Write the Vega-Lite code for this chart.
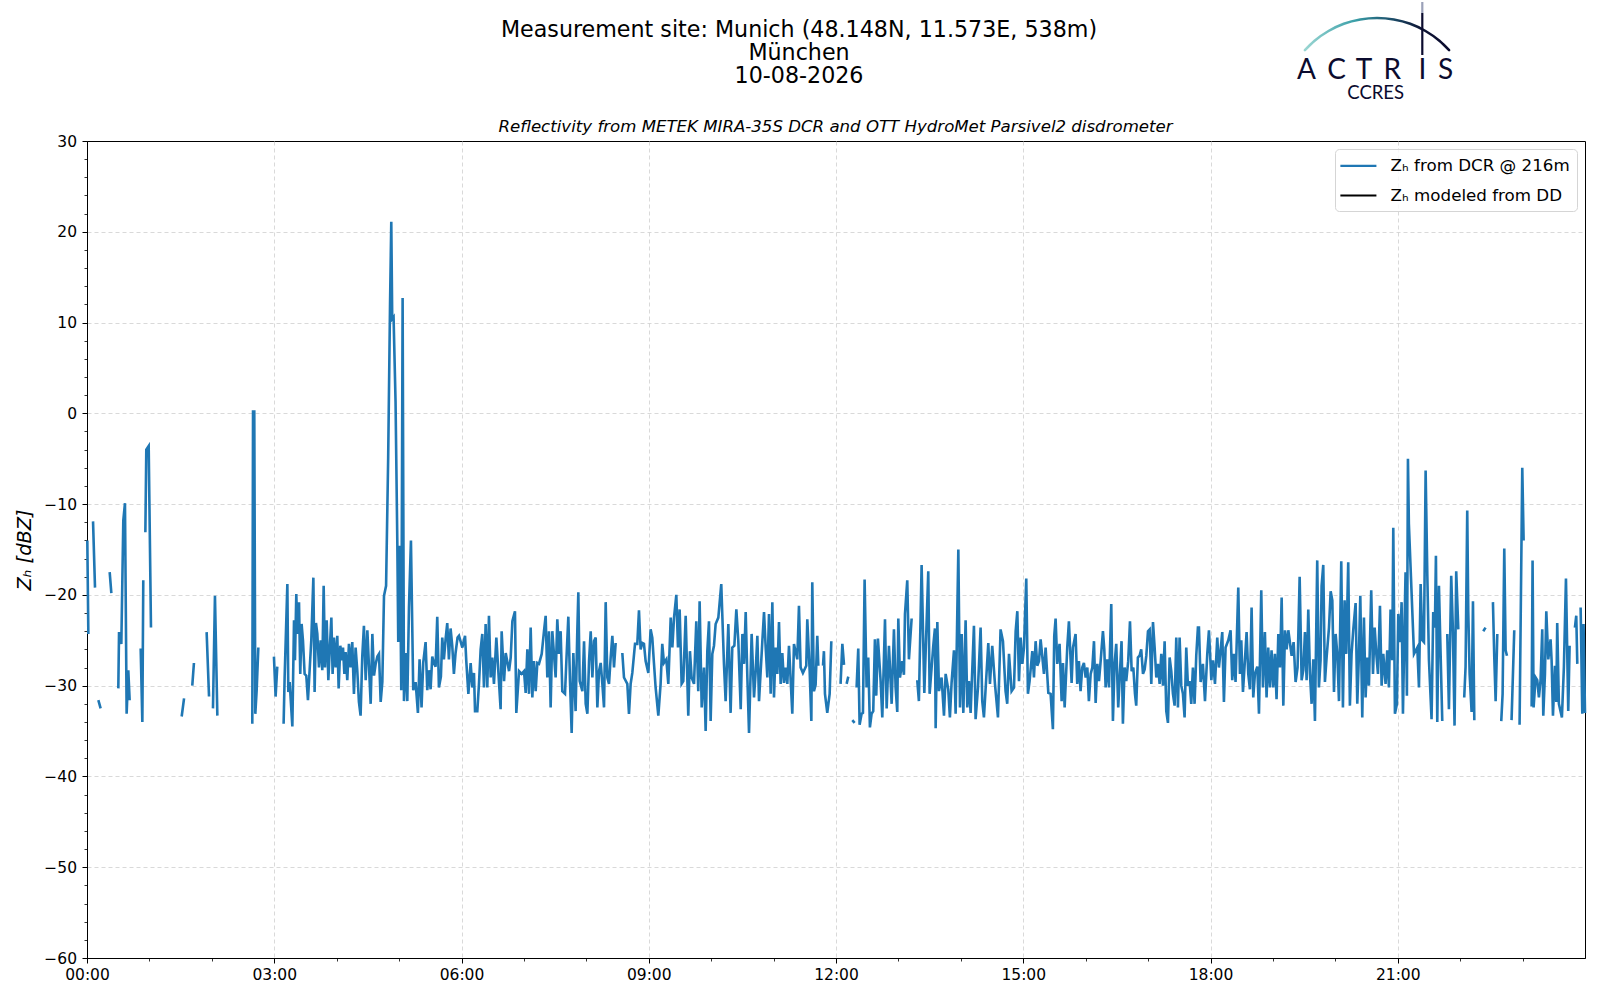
{
  "$schema": "https://vega.github.io/schema/vega-lite/v6.json",
  "background": "white",
  "padding": {"left": 14, "top": 0, "right": 5, "bottom": 5},
  "spacing": 5,
  "bounds": "flush",
  "resolve": {"legend": {"color": "independent"}},
  "config": {
    "font": "DejaVu Sans",
    "view": {"stroke": "black", "strokeWidth": 1},
    "axis": {
      "labelFont": "DejaVu Sans",
      "labelFontSize": 15.5,
      "labelColor": "black",
      "tickColor": "black",
      "domainColor": "black",
      "titleColor": "black",
      "titleFont": "DejaVu Sans",
      "titleFontWeight": "normal",
      "gridColor": "#cfcfcf",
      "gridDash": [4, 3],
      "gridWidth": 0.8
    }
  },
  "datasets": {
    "dcr": [
      {"m":0.3,"z":-14.0},{"m":1.3,"z":-24.3},{"m":3,"z":null},
      {"m":5.8,"z":-11.9},{"m":7.7,"z":-19.2},{"m":9,"z":null},
      {"m":10.9,"z":-31.6},{"m":13.1,"z":-32.5},{"m":17,"z":null},
      {"m":21.8,"z":-17.5},{"m":23.4,"z":-19.8},{"m":27,"z":null},
      {"m":30.1,"z":-30.3},{"m":30.8,"z":-24.1},{"m":33.0,"z":-25.4},{"m":34.9,"z":-11.8},{"m":36.5,"z":-9.9},{"m":38.1,"z":-33.1},{"m":39.7,"z":-28.3},{"m":41.0,"z":-31.6},{"m":45,"z":null},
      {"m":51.6,"z":-25.9},{"m":53.2,"z":-34.0},{"m":54.1,"z":-18.4},{"m":55,"z":null},
      {"m":56.1,"z":-13.1},{"m":57.0,"z":-4.0},{"m":59.3,"z":-3.6},{"m":61.5,"z":-23.6},{"m":65,"z":null},
      {"m":91.0,"z":-33.4},{"m":93.3,"z":-31.4},{"m":96,"z":null},
      {"m":101.2,"z":-30.0},{"m":102.8,"z":-27.5},{"m":106,"z":null},
      {"m":115.0,"z":-24.1},{"m":117.3,"z":-31.2},{"m":119,"z":null},
      {"m":121.1,"z":-32.5},{"m":123.0,"z":-20.1},{"m":125.3,"z":-33.3},{"m":130,"z":null},
      {"m":158.9,"z":-34.2},{"m":159.6,"z":0.2},{"m":160.8,"z":0.2},{"m":161.8,"z":-33.1},{"m":163.1,"z":-30.5},{"m":164.7,"z":-25.8},{"m":170,"z":null},
      {"m":179.7,"z":-26.8},{"m":181.3,"z":-31.2},{"m":182.9,"z":-27.9},{"m":185,"z":null},
      {"m":189.0,"z":-34.2},{"m":190.0,"z":-29.0},{"m":192.6,"z":-18.8},{"m":193.5,"z":-30.7},{"m":194.8,"z":-29.6},{"m":197.4,"z":-34.5},{"m":199.0,"z":-22.8},{"m":199.9,"z":-27.2},
      {"m":201.2,"z":-19.9},{"m":202.2,"z":-24.3},{"m":203.8,"z":-20.8},{"m":205.0,"z":-28.7},{"m":206.3,"z":-23.2},{"m":207.6,"z":-25.0},{"m":209.2,"z":-28.7},{"m":210.8,"z":-28.9},
      {"m":212.4,"z":-31.6},{"m":214.0,"z":-28.3},{"m":215.6,"z":-25.0},{"m":217.6,"z":-18.1},{"m":218.8,"z":-30.7},{"m":220.1,"z":-23.1},{"m":221.4,"z":-24.3},{"m":223.0,"z":-28.0},
      {"m":224.6,"z":-25.0},{"m":226.2,"z":-28.3},{"m":227.5,"z":-19.0},{"m":228.8,"z":-28.0},{"m":230.4,"z":-22.8},{"m":232.0,"z":-29.4},{"m":233.3,"z":-26.1},{"m":234.9,"z":-22.5},
      {"m":236.1,"z":-28.7},{"m":237.4,"z":-24.7},{"m":239.0,"z":-28.0},{"m":240.6,"z":-24.5},{"m":241.9,"z":-30.3},{"m":243.5,"z":-25.6},{"m":245.1,"z":-27.2},{"m":246.1,"z":-25.8},
      {"m":247.4,"z":-28.7},{"m":248.6,"z":-26.3},{"m":250.2,"z":-29.4},{"m":251.8,"z":-25.4},{"m":253.4,"z":-28.0},{"m":255.0,"z":-25.2},{"m":256.6,"z":-30.9},{"m":258.2,"z":-25.8},
      {"m":259.8,"z":-28.3},{"m":261.4,"z":-31.8},{"m":263.0,"z":-33.3},{"m":264.6,"z":-26.8},{"m":266.2,"z":-23.4},{"m":267.9,"z":-29.4},{"m":269.5,"z":-23.9},{"m":271.1,"z":-28.0},
      {"m":272.7,"z":-32.0},{"m":274.3,"z":-24.3},{"m":275.9,"z":-28.9},{"m":277.5,"z":-27.6},{"m":279.1,"z":-26.8},{"m":280.7,"z":-26.5},{"m":282.3,"z":-31.8},{"m":283.9,"z":-29.6},
      {"m":285.5,"z":-20.1},{"m":287.5,"z":-19.0},{"m":289.5,"z":-5.0},{"m":291.3,"z":12.0},{"m":292.5,"z":21.1},{"m":293.4,"z":10.4},{"m":294.7,"z":10.6},{"m":296.6,"z":1.3},
      {"m":298.3,"z":-14.2},{"m":299.2,"z":-25.2},{"m":300.8,"z":-14.6},{"m":302.1,"z":-30.5},{"m":303.4,"z":12.7},{"m":304.7,"z":-31.7},{"m":306.3,"z":-26.4},{"m":307.9,"z":-31.7},
      {"m":309.5,"z":-21.4},{"m":311.4,"z":-14.0},{"m":313.6,"z":-30.5},{"m":315.9,"z":-29.6},{"m":318.1,"z":-33.0},{"m":319.7,"z":-27.1},{"m":321.6,"z":-32.4},{"m":323.2,"z":-27.5},
      {"m":325.5,"z":-25.2},{"m":327.1,"z":-30.5},{"m":328.7,"z":-28.3},{"m":330.3,"z":-30.4},{"m":331.9,"z":-26.8},{"m":333.5,"z":-27.5},{"m":335.1,"z":-27.9},{"m":336.7,"z":-22.4},
      {"m":338.3,"z":-30.2},{"m":340.2,"z":-29.0},{"m":341.5,"z":-24.7},{"m":343.1,"z":-27.1},{"m":344.7,"z":-24.9},{"m":346.3,"z":-23.1},{"m":347.9,"z":-27.1},{"m":349.5,"z":-23.7},
      {"m":351.1,"z":-25.6},{"m":352.7,"z":-28.7},{"m":354.3,"z":-26.4},{"m":356.2,"z":-24.7},
      {"m":357.6,"z":-24.5},{"m":360.8,"z":-25.8},{"m":363.4,"z":-24.5},{"m":364.6,"z":-27.3},{"m":366.6,"z":-30.9},{"m":368.8,"z":-27.5},{"m":370.4,"z":-30.2},{"m":372.0,"z":-28.6},
      {"m":373.0,"z":-32.8},{"m":375.2,"z":-32.8},{"m":376.8,"z":-29.8},{"m":378.4,"z":-26.0},{"m":380.0,"z":-24.3},{"m":381.6,"z":-30.2},{"m":383.2,"z":-23.2},{"m":384.8,"z":-30.2},
      {"m":386.4,"z":-22.3},{"m":388.0,"z":-29.1},{"m":389.6,"z":-26.9},{"m":391.2,"z":-29.8},{"m":393.5,"z":-24.7},{"m":395.4,"z":-28.4},{"m":397.6,"z":-32.6},{"m":398.6,"z":-24.0},
      {"m":400.9,"z":-29.5},{"m":402.5,"z":-26.4},{"m":405.7,"z":-28.4},{"m":407.3,"z":-26.9},{"m":408.9,"z":-22.9},{"m":411.4,"z":-21.8},{"m":412.7,"z":-33.0},{"m":415.3,"z":-28.4},
      {"m":417.8,"z":-28.7},{"m":420.1,"z":-28.4},{"m":421.7,"z":-30.8},{"m":423.3,"z":-26.0},{"m":424.9,"z":-30.9},{"m":426.5,"z":-23.6},{"m":428.1,"z":-31.3},{"m":429.7,"z":-27.3},
      {"m":431.3,"z":-30.6},{"m":432.9,"z":-27.5},{"m":434.5,"z":-27.6},{"m":437.1,"z":-26.5},{"m":439.3,"z":-24.0},{"m":440.9,"z":-22.3},{"m":442.5,"z":-29.1},{"m":444.1,"z":-24.0},
      {"m":445.7,"z":-32.4},{"m":447.3,"z":-24.0},{"m":450.5,"z":-29.1},{"m":452.1,"z":-22.7},{"m":453.7,"z":-26.5},{"m":455.3,"z":-24.0},{"m":456.9,"z":-30.6},{"m":459.5,"z":-30.9},
      {"m":460.8,"z":-27.3},{"m":462.7,"z":-22.4},{"m":464.3,"z":-29.5},{"m":465.9,"z":-35.2},{"m":467.5,"z":-26.4},{"m":469.7,"z":-32.8},{"m":471.3,"z":-24.1},{"m":472.3,"z":-19.7},
      {"m":473.6,"z":-29.5},{"m":476.2,"z":-30.6},{"m":477.8,"z":-25.1},{"m":479.4,"z":-32.0},{"m":481.0,"z":-33.1},{"m":482.6,"z":-27.3},{"m":484.2,"z":-24.0},{"m":485.8,"z":-29.1},
      {"m":487.4,"z":-25.1},{"m":489.0,"z":-24.7},{"m":490.6,"z":-32.4},{"m":492.2,"z":-28.4},{"m":493.8,"z":-27.5},{"m":495.4,"z":-29.8},{"m":497.0,"z":-32.4},{"m":498.6,"z":-20.8},
      {"m":500.2,"z":-29.1},{"m":501.8,"z":-29.8},{"m":503.4,"z":-26.9},{"m":505.0,"z":-24.5},{"m":506.6,"z":-28.0},{"m":508.2,"z":-25.3},{"m":512,"z":null},
      {"m":514.6,"z":-26.4},{"m":516.2,"z":-29.1},{"m":519.4,"z":-29.8},{"m":521.0,"z":-33.1},{"m":522.6,"z":-29.8},{"m":524.2,"z":-28.6},{"m":526.8,"z":-25.4},{"m":529.0,"z":-25.4},
      {"m":530.6,"z":-21.7},{"m":532.2,"z":-26.0},{"m":533.8,"z":-25.3},{"m":535.4,"z":-25.4},{"m":537.0,"z":-27.3},{"m":539.6,"z":-28.6},{"m":541.8,"z":-23.8},{"m":543.4,"z":-24.7},
      {"m":545.0,"z":-27.5},{"m":546.6,"z":-30.2},{"m":549.2,"z":-33.3},{"m":551.4,"z":-29.8},{"m":553.0,"z":-25.4},{"m":554.6,"z":-27.5},{"m":556.9,"z":-27.1},{"m":558.8,"z":-29.8},
      {"m":561.1,"z":-22.5},{"m":562.7,"z":-25.8},{"m":564.3,"z":-22.5},{"m":566.5,"z":-20.0},{"m":568.1,"z":-25.8},{"m":569.7,"z":-21.6},{"m":571.6,"z":-29.8},{"m":573.2,"z":-29.5},
      {"m":575.5,"z":-22.3},{"m":578.0,"z":-33.3},{"m":579.6,"z":-26.2},{"m":581.2,"z":-29.1},{"m":583.5,"z":-29.8},{"m":585.7,"z":-22.9},{"m":587.6,"z":-30.6},{"m":588.9,"z":-20.7},
      {"m":590.9,"z":-32.4},{"m":593.1,"z":-28.0},{"m":594.7,"z":-35.0},{"m":596.3,"z":-26.2},{"m":597.9,"z":-22.9},{"m":599.5,"z":-33.9},{"m":601.1,"z":-26.5},{"m":602.7,"z":-25.6},
      {"m":604.3,"z":-23.2},{"m":606.9,"z":-22.5},{"m":609.7,"z":-18.8},{"m":612.3,"z":-27.6},{"m":613.9,"z":-31.7},{"m":616.5,"z":-23.2},{"m":618.7,"z":-33.0},{"m":620.3,"z":-25.8},
      {"m":622.3,"z":-25.6},{"m":624.2,"z":-21.6},{"m":626.1,"z":-25.1},{"m":628.4,"z":-32.6},{"m":630.0,"z":-24.3},{"m":631.6,"z":-27.6},{"m":633.2,"z":-21.9},{"m":634.8,"z":-29.1},
      {"m":636.4,"z":-35.2},{"m":638.9,"z":-24.3},{"m":641.2,"z":-31.3},{"m":642.8,"z":-28.4},{"m":644.4,"z":-24.5},{"m":646.0,"z":-31.7},{"m":649.2,"z":-25.1},{"m":650.8,"z":-21.9},
      {"m":652.4,"z":-25.8},{"m":654.0,"z":-29.1},{"m":655.6,"z":-22.1},{"m":657.2,"z":-30.9},{"m":658.8,"z":-20.8},{"m":660.4,"z":-31.3},{"m":662.0,"z":-25.8},{"m":663.6,"z":-28.7},
      {"m":665.2,"z":-23.0},{"m":666.8,"z":-29.8},{"m":668.4,"z":-26.4},{"m":670.0,"z":-29.7},{"m":671.6,"z":-28.0},{"m":673.2,"z":-29.8},{"m":674.8,"z":-25.6},{"m":678.0,"z":-33.1},
      {"m":679.6,"z":-25.4},{"m":682.8,"z":-27.1},{"m":684.4,"z":-21.2},{"m":686.0,"z":-28.0},{"m":688.2,"z":-28.6},{"m":691.4,"z":-27.8},{"m":692.4,"z":-22.7},{"m":694.7,"z":-28.4},
      {"m":696.3,"z":-33.9},{"m":697.2,"z":-18.6},{"m":698.8,"z":-30.6},{"m":700.4,"z":-29.9},{"m":702.0,"z":-24.5},{"m":703.0,"z":-27.8},{"m":705,"z":null},
      {"m":707.5,"z":-27.8},{"m":708.4,"z":-26.2},{"m":709.4,"z":-30.9},{"m":711.6,"z":-33.0},{"m":713.9,"z":-30.9},{"m":715.5,"z":-25.1},{"m":719,"z":null},
      {"m":724.4,"z":-29.8},{"m":726.1,"z":-25.4},{"m":727.7,"z":-27.7},{"m":729,"z":null},
      {"m":730.2,"z":-29.8},{"m":731.8,"z":-29.0},{"m":733.5,"z":null},
      {"m":735.7,"z":-33.8},{"m":737.9,"z":-34.1},{"m":738.8,"z":null},
      {"m":739.8,"z":-30.2},{"m":741.4,"z":-25.9},{"m":742.7,"z":-34.3},{"m":744.6,"z":-33.1},{"m":745.9,"z":-33.0},{"m":747.5,"z":-18.3},{"m":749.4,"z":-30.2},{"m":751.0,"z":-26.9},
      {"m":752.6,"z":-34.6},{"m":754.2,"z":-33.1},{"m":755.8,"z":-32.8},{"m":757.4,"z":-24.9},{"m":758.7,"z":-31.1},{"m":760.3,"z":-24.8},{"m":762.9,"z":-29.5},{"m":764.5,"z":-33.5},
      {"m":767.1,"z":-22.7},{"m":768.7,"z":-32.5},{"m":770.9,"z":-25.6},{"m":773.5,"z":-32.0},{"m":775.7,"z":-23.8},{"m":777.3,"z":-30.2},{"m":778.9,"z":-32.9},{"m":779.9,"z":-22.6},
      {"m":781.5,"z":-29.1},{"m":783.7,"z":-27.3},{"m":785.3,"z":-28.8},{"m":786.3,"z":-22.1},{"m":788.5,"z":-18.4},{"m":790.1,"z":-27.1},{"m":792.7,"z":-22.6},{"m":795,"z":null},
      {"m":798.1,"z":-29.4},{"m":799.7,"z":-31.7},{"m":802.3,"z":-16.7},{"m":804.9,"z":-30.8},{"m":808.7,"z":-17.4},{"m":810.0,"z":-30.9},{"m":813.5,"z":-25.6},{"m":815.1,"z":-23.7},
      {"m":815.8,"z":-34.7},{"m":817.4,"z":-23.0},{"m":819.0,"z":-30.6},{"m":821.5,"z":-29.1},{"m":823.8,"z":-33.3},{"m":825.4,"z":-28.7},{"m":827.9,"z":-30.4},{"m":829.5,"z":-33.5},
      {"m":831.1,"z":-29.7},{"m":833.4,"z":-26.1},{"m":835.0,"z":-33.1},{"m":837.6,"z":-15.0},{"m":839.2,"z":-32.4},{"m":840.8,"z":-24.3},{"m":842.4,"z":-33.0},{"m":844.6,"z":-22.8},
      {"m":846.2,"z":-32.4},{"m":847.8,"z":-29.5},{"m":849.4,"z":-33.0},{"m":852.6,"z":-23.4},{"m":854.2,"z":-33.7},{"m":856.5,"z":-30.2},{"m":859.0,"z":-23.6},{"m":860.6,"z":-31.7},
      {"m":862.2,"z":-33.5},{"m":863.8,"z":-30.4},{"m":866.4,"z":-25.3},{"m":868.0,"z":-29.8},{"m":870.2,"z":-25.6},{"m":872.8,"z":-29.8},{"m":875.7,"z":-33.5},{"m":878.2,"z":-23.8},
      {"m":880.5,"z":-25.1},{"m":883.0,"z":-30.6},{"m":884.6,"z":-32.0},{"m":886.3,"z":-26.5},{"m":888.8,"z":-30.6},{"m":891.1,"z":-30.2},{"m":892.7,"z":-24.0},{"m":894.3,"z":-21.8},
      {"m":895.9,"z":-29.5},{"m":897.5,"z":-24.7},{"m":899.1,"z":-27.6},{"m":900.7,"z":-25.8},{"m":902.9,"z":-18.2},{"m":904.5,"z":-30.9},{"m":906.1,"z":-29.5},{"m":908.7,"z":-26.2},
      {"m":910.3,"z":-29.1},{"m":911.9,"z":-25.1},{"m":913.5,"z":-27.8},{"m":915.1,"z":-27.3},{"m":916.7,"z":-24.9},{"m":919.9,"z":-28.7},{"m":921.5,"z":-25.8},{"m":924.1,"z":-30.8},
      {"m":926.3,"z":-30.9},{"m":928.5,"z":-34.8},{"m":929.8,"z":-24.5},{"m":931.1,"z":-22.6},{"m":932.7,"z":-27.6},{"m":934.9,"z":-25.4},{"m":936.9,"z":-31.7},{"m":938.2,"z":-27.5},
      {"m":939.8,"z":-32.4},{"m":942.3,"z":-25.8},{"m":943.9,"z":-22.9},{"m":946.5,"z":-29.7},{"m":947.8,"z":-25.8},{"m":950.3,"z":-24.3},{"m":951.9,"z":-29.8},{"m":953.5,"z":-27.3},
      {"m":955.1,"z":-30.6},{"m":956.7,"z":-28.0},{"m":958.3,"z":-27.5},{"m":960.0,"z":-29.1},{"m":961.6,"z":-28.0},{"m":963.1,"z":-31.7},{"m":964.8,"z":-28.7},{"m":966.4,"z":-28.0},
      {"m":968.0,"z":-25.1},{"m":969.6,"z":-31.9},{"m":971.2,"z":-27.6},{"m":972.8,"z":-29.5},{"m":974.4,"z":-27.3},{"m":976.6,"z":-24.0},{"m":977.9,"z":-26.0},{"m":979.2,"z":-30.2},
      {"m":980.8,"z":-27.1},{"m":982.4,"z":-30.2},{"m":984.6,"z":-21.0},{"m":986.2,"z":-33.9},{"m":987.8,"z":-27.6},{"m":989.4,"z":-25.4},{"m":991.3,"z":-32.4},{"m":992.9,"z":-28.7},
      {"m":994.5,"z":-25.1},{"m":995.8,"z":-34.2},{"m":997.4,"z":-28.0},{"m":999.0,"z":-29.5},{"m":1000.9,"z":-27.3},{"m":1002.6,"z":-22.9},{"m":1004.2,"z":-28.4},{"m":1005.8,"z":-28.0},
      {"m":1007.4,"z":-30.9},{"m":1008.6,"z":-32.2},{"m":1010.2,"z":-26.9},{"m":1011.8,"z":-26.7},{"m":1013.4,"z":-26.0},{"m":1015.1,"z":-28.7},{"m":1016.7,"z":-28.2},{"m":1018.3,"z":-26.7},
      {"m":1019.9,"z":-24.0},{"m":1021.5,"z":-23.8},{"m":1023.1,"z":-29.8},{"m":1024.7,"z":-23.0},{"m":1026.3,"z":-25.8},{"m":1027.9,"z":-29.1},{"m":1029.5,"z":-27.6},{"m":1031.1,"z":-29.8},
      {"m":1032.7,"z":-26.5},{"m":1034.3,"z":-30.0},{"m":1035.9,"z":-25.1},{"m":1037.5,"z":-32.8},{"m":1039.1,"z":-34.1},{"m":1040.7,"z":-26.9},{"m":1042.3,"z":-28.4},{"m":1043.9,"z":-30.9},
      {"m":1045.5,"z":-32.2},{"m":1047.1,"z":-24.7},{"m":1048.7,"z":-32.4},{"m":1050.3,"z":-24.7},{"m":1051.9,"z":-30.0},{"m":1053.5,"z":-30.9},{"m":1055.1,"z":-33.5},{"m":1056.7,"z":-25.8},
      {"m":1058.3,"z":-30.0},{"m":1059.9,"z":-29.5},{"m":1061.5,"z":-32.0},{"m":1063.1,"z":-28.0},{"m":1064.7,"z":-32.0},{"m":1066.3,"z":-26.7},{"m":1067.9,"z":-23.6},
      {"m":1068.9,"z":-23.6},{"m":1070.5,"z":-29.6},{"m":1072.7,"z":-27.6},{"m":1074.7,"z":-31.7},{"m":1076.9,"z":-26.5},{"m":1078.5,"z":-23.9},{"m":1080.8,"z":-29.4},{"m":1082.4,"z":-27.2},
      {"m":1084.3,"z":-29.8},{"m":1086.5,"z":-24.7},{"m":1088.1,"z":-28.0},{"m":1089.7,"z":-26.1},{"m":1091.3,"z":-24.1},{"m":1092.9,"z":-31.8},{"m":1094.5,"z":-25.8},{"m":1097.1,"z":-25.0},
      {"m":1099.3,"z":-23.9},{"m":1100.9,"z":-29.4},{"m":1102.5,"z":-26.5},{"m":1104.1,"z":-29.6},{"m":1106.7,"z":-19.2},{"m":1108.3,"z":-28.7},{"m":1109.6,"z":-25.0},{"m":1111.2,"z":-30.7},
      {"m":1113.1,"z":-27.2},{"m":1114.7,"z":-24.1},{"m":1116.3,"z":-28.7},{"m":1117.9,"z":-30.4},{"m":1119.5,"z":-21.4},{"m":1121.1,"z":-31.3},{"m":1122.7,"z":-28.7},{"m":1125.0,"z":-27.9},
      {"m":1126.6,"z":-33.1},{"m":1128.8,"z":-19.5},{"m":1130.4,"z":-30.2},{"m":1132.3,"z":-24.1},{"m":1133.9,"z":-31.3},{"m":1135.5,"z":-25.8},{"m":1137.1,"z":-30.2},{"m":1138.7,"z":-26.1},
      {"m":1140.3,"z":-30.2},{"m":1141.9,"z":-26.5},{"m":1143.5,"z":-31.5},{"m":1145.2,"z":-24.3},{"m":1146.8,"z":-28.0},{"m":1148.4,"z":-20.3},{"m":1150.0,"z":-32.2},{"m":1151.6,"z":-23.9},
      {"m":1153.2,"z":-26.0},{"m":1154.8,"z":-23.9},{"m":1158.0,"z":-26.7},{"m":1159.9,"z":-25.2},{"m":1161.8,"z":-29.6},{"m":1163.7,"z":-28.0},{"m":1165.7,"z":-18.0},{"m":1167.6,"z":-29.4},
      {"m":1169.2,"z":-28.3},{"m":1170.8,"z":-24.1},{"m":1172.4,"z":-29.4},{"m":1174.0,"z":-21.6},{"m":1175.6,"z":-28.7},{"m":1177.2,"z":-32.0},{"m":1178.8,"z":-27.1},{"m":1180.4,"z":-33.9},
      {"m":1182.6,"z":-16.2},{"m":1184.2,"z":-30.2},{"m":1185.8,"z":-27.2},{"m":1186.8,"z":-19.0},{"m":1188.4,"z":-16.7},{"m":1190.0,"z":-29.6},{"m":1191.6,"z":-26.9},{"m":1193.9,"z":-23.6},
      {"m":1195.5,"z":-19.6},{"m":1197.1,"z":-20.6},{"m":1198.7,"z":-30.7},{"m":1200.3,"z":-24.3},{"m":1201.9,"z":-26.5},{"m":1203.5,"z":-31.7},{"m":1205.7,"z":-16.3},{"m":1207.3,"z":-32.4},
      {"m":1208.9,"z":-20.6},{"m":1210.5,"z":-26.5},{"m":1212.4,"z":-16.4},{"m":1214.0,"z":-32.2},{"m":1215.6,"z":-26.5},{"m":1217.2,"z":-23.9},{"m":1219.5,"z":-20.9},{"m":1221.1,"z":-32.0},
      {"m":1222.7,"z":-26.5},{"m":1224.0,"z":-20.1},{"m":1225.9,"z":-33.5},{"m":1227.5,"z":-22.5},{"m":1229.1,"z":-31.3},{"m":1230.7,"z":-26.9},{"m":1232.3,"z":-30.0},{"m":1234.5,"z":-19.5},
      {"m":1236.2,"z":-28.7},{"m":1237.8,"z":-23.6},{"m":1239.4,"z":-26.5},{"m":1241.0,"z":-28.7},{"m":1242.9,"z":-21.2},{"m":1244.5,"z":-30.0},{"m":1246.1,"z":-26.5},{"m":1248.3,"z":-29.8},
      {"m":1249.9,"z":-26.1},{"m":1251.5,"z":-30.2},{"m":1253.1,"z":-21.6},{"m":1254.7,"z":-27.2},{"m":1255.7,"z":-12.6},{"m":1257.3,"z":-33.1},{"m":1259.2,"z":-32.0},{"m":1260.5,"z":-22.1},
      {"m":1262.4,"z":-25.2},{"m":1263.7,"z":-20.8},{"m":1265.0,"z":-33.1},{"m":1266.6,"z":-22.8},{"m":1267.5,"z":-17.5},{"m":1268.8,"z":-31.1},{"m":1269.8,"z":-5.0},{"m":1270.7,"z":-12.2},
      {"m":1275.6,"z":-26.5},{"m":1278.8,"z":-25.8},{"m":1280.4,"z":-30.2},{"m":1282.0,"z":-18.8},{"m":1283.6,"z":-25.0},{"m":1285.2,"z":-25.2},{"m":1286.8,"z":-6.3},{"m":1288.4,"z":-17.7},
      {"m":1290.0,"z":-27.2},{"m":1292.5,"z":-33.7},{"m":1294.1,"z":-21.9},{"m":1295.7,"z":-23.6},{"m":1296.7,"z":-15.7},{"m":1298.0,"z":-34.0},{"m":1299.6,"z":-19.0},{"m":1301.2,"z":-26.5},
      {"m":1302.8,"z":-33.9},{"m":1305,"z":null},
      {"m":1307.6,"z":-24.3},{"m":1309.2,"z":-32.6},{"m":1311.4,"z":-17.9},{"m":1313.0,"z":-23.8},{"m":1314.6,"z":-34.4},{"m":1316.2,"z":-17.4},{"m":1318.2,"z":-23.8},{"m":1321,"z":null},
      {"m":1323.9,"z":-31.3},{"m":1325.2,"z":-27.9},{"m":1326.8,"z":-10.7},{"m":1327.8,"z":-21.9},{"m":1329.1,"z":-28.7},{"m":1331.0,"z":-32.9},{"m":1332.3,"z":-20.7},{"m":1333.6,"z":-33.8},{"m":1337,"z":null},
      {"m":1342.2,"z":-24.0},{"m":1344.4,"z":-23.6},{"m":1347,"z":null},
      {"m":1351.5,"z":-20.8},{"m":1352.8,"z":-26.9},{"m":1354.1,"z":-31.7},{"m":1355.7,"z":-24.3},{"m":1357.5,"z":null},
      {"m":1359.5,"z":-33.9},{"m":1360.8,"z":-30.9},{"m":1362.4,"z":-14.9},{"m":1363.7,"z":-26.1},{"m":1365.0,"z":-26.7},{"m":1367,"z":null},
      {"m":1369.4,"z":-33.8},{"m":1372.0,"z":-23.9},{"m":1374,"z":null},
      {"m":1377.1,"z":-34.3},{"m":1379.7,"z":-6.0},{"m":1381.0,"z":-14.0},{"m":1385,"z":null},
      {"m":1388.7,"z":-32.3},{"m":1389.6,"z":-16.2},{"m":1390.6,"z":-32.4},{"m":1392.5,"z":-29.1},{"m":1394.1,"z":-29.4},{"m":1395.7,"z":-31.3},{"m":1397.3,"z":-29.4},{"m":1398.9,"z":-23.8},
      {"m":1399.9,"z":-33.3},{"m":1401.5,"z":-28.7},{"m":1402.8,"z":-21.8},{"m":1404.7,"z":-27.1},{"m":1406.9,"z":-24.9},{"m":1407.9,"z":-27.2},{"m":1409.2,"z":-33.3},{"m":1411.1,"z":-27.8},
      {"m":1412.4,"z":-31.8},{"m":1413.3,"z":-23.1},{"m":1414.9,"z":-32.0},{"m":1417.8,"z":-33.5},{"m":1419.7,"z":-28.0},{"m":1421.7,"z":-18.2},{"m":1423.9,"z":-32.8},{"m":1425.2,"z":-25.6},{"m":1428,"z":null},
      {"m":1430.3,"z":-23.6},{"m":1431.6,"z":-22.3},{"m":1432.6,"z":-27.6},{"m":1434,"z":null},
      {"m":1435.8,"z":-21.4},{"m":1437.4,"z":-33.1},{"m":1438.6,"z":-23.2},{"m":1440,"z":-33.0}
    ]
  },
  "vconcat": [
    {
      "width": 1498,
      "height": 135,
      "view": {"stroke": null},
      "encoding": {
        "x": {"field": "fx", "type": "quantitative", "scale": {"domain": [88, 1586], "nice": false, "zero": false}, "axis": null},
        "y": {"field": "fy", "type": "quantitative", "scale": {"domain": [135, 0], "nice": false, "zero": false}, "axis": null}
      },
      "layer": [
        {
          "data": {"values": [
            {"fx": 800, "fy": 28.6, "label": "Measurement site: Munich (48.148N, 11.573E, 538m)"},
            {"fx": 800, "fy": 52, "label": "München"},
            {"fx": 800, "fy": 74.5, "label": "10-08-2026"}
          ]},
          "mark": {"type": "text", "font": "DejaVu Sans", "fontSize": 22.2, "color": "black", "baseline": "middle", "align": "center"},
          "encoding": {"text": {"field": "label"}}
        },
        {
          "data": {"values": [
            {"fx": 836.5, "fy": 125.5, "label": "Reflectivity from METEK MIRA-35S DCR and OTT HydroMet Parsivel2 disdrometer"}
          ]},
          "mark": {"type": "text", "font": "DejaVu Sans", "fontSize": 16.6, "fontStyle": "italic", "color": "black", "baseline": "middle", "align": "center"},
          "encoding": {"text": {"field": "label"}}
        },
        {
          "data": {"values": [
            {"fx": 1307.5, "fy": 78.3, "label": "A"},
            {"fx": 1337.5, "fy": 78.3, "label": "C"},
            {"fx": 1365, "fy": 78.3, "label": "T"},
            {"fx": 1393.3, "fy": 78.3, "label": "R"},
            {"fx": 1423.3, "fy": 78.3, "label": "I"},
            {"fx": 1446.7, "fy": 78.3, "label": "S"}
          ]},
          "mark": {"type": "text", "font": "Lato", "fontSize": 28, "color": "#0b0b2e", "baseline": "alphabetic", "align": "center"},
          "encoding": {"text": {"field": "label"}}
        },
        {
          "data": {"values": [{"fx": 1376.7, "fy": 98.3, "label": "CCRES"}]},
          "mark": {"type": "text", "font": "Lato", "fontSize": 18.5, "color": "#0b0b2e", "baseline": "alphabetic", "align": "center"},
          "encoding": {"text": {"field": "label"}}
        },
        {
          "data": {"values": [
            {"fx": 1305.9, "fy": 49.1}, {"fx": 1315.6, "fy": 39.7}, {"fx": 1329.5, "fy": 30.0},
            {"fx": 1344.8, "fy": 22.8}, {"fx": 1361.2, "fy": 18.5}, {"fx": 1378, "fy": 17},
            {"fx": 1394.8, "fy": 18.5}, {"fx": 1411.2, "fy": 22.8}, {"fx": 1426.5, "fy": 30.0},
            {"fx": 1440.4, "fy": 39.7}, {"fx": 1450.1, "fy": 49.1}
          ]},
          "mark": {
            "type": "line",
            "interpolate": "monotone",
            "strokeWidth": 2.6,
            "strokeCap": "round",
            "color": {
              "gradient": "linear",
              "x1": 0, "y1": 0, "x2": 1, "y2": 0,
              "stops": [
                {"offset": 0, "color": "#9ad6d2"},
                {"offset": 0.35, "color": "#3a9fa8"},
                {"offset": 0.6, "color": "#1d4f6b"},
                {"offset": 0.8, "color": "#0d1535"},
                {"offset": 1, "color": "#0b0b2e"}
              ]
            }
          }
        },
        {
          "data": {"values": [{"fx": 1423.3, "fy": 12, "fy2": 54}]},
          "mark": {"type": "rule", "strokeWidth": 2.2, "color": "#0b0b2e"},
          "encoding": {"y2": {"field": "fy2"}}
        },
        {
          "data": {"values": [{"fx": 1423.3, "fy": 1, "fy2": 12}]},
          "mark": {"type": "rule", "strokeWidth": 2.2, "color": "#9aa0b8"},
          "encoding": {"y2": {"field": "fy2"}}
        }
      ]
    },
    {
      "width": 1498,
      "height": 817,
      "view": {"stroke": "black", "strokeWidth": 1},
      "resolve": {"axis": {"x": "independent", "y": "independent"}},
      "layer": [
        {
          "data": {"values": [{"m": 0, "z": 0}]},
          "mark": {"type": "point", "opacity": 0},
          "encoding": {
            "x": {
              "field": "m", "type": "quantitative",
              "scale": {"domain": [0, 1440], "nice": false, "zero": false},
              "axis": {
                "orient": "bottom", "title": null, "labels": false, "domain": false, "ticks": false, "grid": true,
                "values": [180, 360, 540, 720, 900, 1080, 1260]
              }
            },
            "y": {
              "field": "z", "type": "quantitative",
              "scale": {"domain": [-60, 30], "nice": false, "zero": false},
              "axis": {
                "orient": "left", "title": null, "labels": false, "domain": false, "ticks": false, "grid": true,
                "values": [-50, -40, -30, -20, -10, 0, 10, 20]
              }
            }
          }
        },
        {
          "data": {"name": "dcr"},
          "mark": {"type": "line", "strokeWidth": 2.6, "color": "#1f77b4", "invalid": "break-paths-filter-domains"},
          "encoding": {
            "x": {
              "field": "m", "type": "quantitative",
              "scale": {"domain": [0, 1440], "nice": false, "zero": false},
              "axis": {
                "orient": "bottom",
                "values": [0, 180, 360, 540, 720, 900, 1080, 1260],
                "labelExpr": "utcFormat(datum.value * 60000, '%H:%M')",
                "title": null, "grid": false, "tickSize": 5, "tickWidth": 1, "labelPadding": 4.2,
                "labelFlush": false, "labelOverlap": false
              }
            },
            "y": {
              "field": "z", "type": "quantitative",
              "scale": {"domain": [-60, 30], "nice": false, "zero": false},
              "axis": {
                "orient": "left",
                "values": [-60, -50, -40, -30, -20, -10, 0, 10, 20, 30],
                "format": "d",
                "title": "Zₕ [dBZ]", "titleFontStyle": "italic", "titleFontSize": 19.4, "titlePadding": 8.8,
                "grid": false, "tickSize": 5, "tickWidth": 1, "labelPadding": 5.5,
                "labelFlush": false, "labelOverlap": false
              }
            },
            "color": {
              "datum": "Zₕ from DCR @ 216m", "type": "nominal",
              "scale": {"domain": ["Zₕ from DCR @ 216m", "Zₕ modeled from DD"], "range": ["#1f77b4", "black"]},
              "legend": {
                "title": null, "orient": "top-right", "offset": 8,
                "labelFont": "DejaVu Sans", "labelFontSize": 16.7, "labelColor": "black", "labelLimit": 400, "labelOffset": 22.2,
                "symbolType": "M-2.12,0H2.12", "symbolSize": 289, "symbolStrokeWidth": 2.2, "symbolOffset": 6.6,
                "fillColor": "rgba(255,255,255,0.8)", "strokeColor": "#d5d5d5", "cornerRadius": 4,
                "padding": 6.8, "rowPadding": 10.7
              }
            }
          }
        },
        {
          "data": {"values": [{"m": 0, "z": 0}]},
          "mark": {"type": "point", "opacity": 0},
          "encoding": {
            "x": {
              "field": "m", "type": "quantitative",
              "scale": {"domain": [0, 1440], "nice": false, "zero": false},
              "axis": {
                "orient": "bottom", "title": null, "labels": false, "domain": false, "grid": false,
                "tickSize": 3, "tickWidth": 0.8,
                "values": [60, 120, 240, 300, 420, 480, 600, 660, 780, 840, 960, 1020, 1140, 1200, 1320, 1380]
              }
            },
            "y": {
              "field": "z", "type": "quantitative",
              "scale": {"domain": [-60, 30], "nice": false, "zero": false},
              "axis": {
                "orient": "left", "title": null, "labels": false, "domain": false, "grid": false,
                "tickSize": 3, "tickWidth": 0.8,
                "values": [-58, -56, -54, -52, -48, -46, -44, -42, -38, -36, -34, -32, -28, -26, -24, -22, -18, -16, -14, -12, -8, -6, -4, -2, 2, 4, 6, 8, 12, 14, 16, 18, 22, 24, 26, 28]
              }
            }
          }
        }
      ]
    }
  ]
}
